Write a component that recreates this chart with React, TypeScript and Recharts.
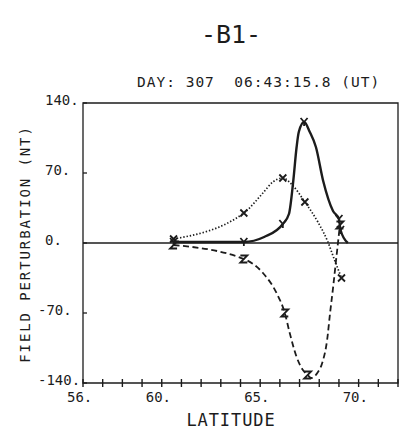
import React from "react";
import { LineChart, Line, XAxis, YAxis, ReferenceLine, ReferenceArea } from "recharts";

// latitude / field perturbation (nT), mark = plotted symbol
const solidLat = [60.6, 64.17, 65.2, 66.15, 66.46, 66.68, 66.85, 66.96, 67.23, 67.52, 67.83, 68.2, 68.7, 69.0, 69.08, 69.45];
const solidVal = [1, 1, 6, 19, 29, 62, 96, 111, 121, 111, 96, 62, 32, 24, 13, 0];
const solidMark = [1, 1, 0, 1, 0, 0, 0, 0, 1, 0, 0, 0, 0, 1, 1, 0];

const dottedLat = [60.6, 64.17, 65.14, 65.64, 66.15, 66.63, 67.27, 67.93, 68.44, 68.74, 69.13];
const dottedVal = [4, 30, 50, 61, 65, 58, 41, 21, 1, -15, -35];
const dottedMark = [1, 1, 0, 0, 1, 0, 1, 0, 0, 0, 1];

const dashedLat = [60.6, 64.17, 65.14, 65.83, 66.25, 66.5, 66.85, 67.17, 67.41, 67.6, 67.9, 68.15, 68.4, 68.55, 68.7, 68.85, 69.05];
const dashedVal = [-2, -16, -30, -50, -70, -90, -114, -127, -132, -135, -130, -120, -97, -70, -45, -18, 18];
const dashedMark = [1, 1, 0, 0, 1, 0, 0, 0, 1, 0, 0, 0, 0, 0, 0, 0, 1];

const xTicks = [56, 57, 58, 59, 60, 61, 62, 63, 64, 65, 66, 67, 68, 69, 70, 71, 72];
const xLabels = [56, 60, 65, 70];
const yTicks = [-140, -70, 0, 70, 140];

const build = (lat: number[], val: number[], mark: number[]) =>
  lat.map((l, i) => ({ lat: l, v: val[i], mark: mark[i] }));

const solid = build(solidLat, solidVal, solidMark);
const dotted = build(dottedLat, dottedVal, dottedMark);
const dashed = build(dashedLat, dashedVal, dashedMark);

const INK = "#1c1c1c";
const FONT = "'DejaVu Sans Mono', monospace";
const PLOT_LEFT = 83;
const PLOT_BOTTOM = 383;

function makeDot(kind: "y" | "x" | "z") {
  return (props: any) => {
    const { cx, cy, index, payload } = props;
    if (!payload?.mark || cx == null) return <g key={`n-${kind}-${index}`} />;
    let d = "";
    if (kind === "x") d = `M${cx - 3.5},${cy - 3.5}L${cx + 3.5},${cy + 3.5}M${cx + 3.5},${cy - 3.5}L${cx - 3.5},${cy + 3.5}`;
    if (kind === "y") d = `M${cx - 3.5},${cy - 4}L${cx},${cy}L${cx + 3.5},${cy - 4}M${cx},${cy}L${cx},${cy + 4}`;
    if (kind === "z") d = `M${cx - 3.5},${cy - 3.5}H${cx + 3.5}L${cx - 3.5},${cy + 3.5}H${cx + 3.5}`;
    return <path key={`m-${kind}-${index}`} d={d} stroke={INK} strokeWidth={1.8} fill="none" />;
  };
}

function XTick(props: any) {
  const { x, payload } = props;
  const v = payload.value;
  return (
    <g>
      <line x1={x} x2={x} y1={PLOT_BOTTOM - 4} y2={PLOT_BOTTOM + 4} stroke={INK} strokeWidth={1.4} />
      {xLabels.includes(v) && (
        <text x={x - 16} y={PLOT_BOTTOM + 19} fontFamily={FONT} fontSize={14} fill={INK} textAnchor="start">
          {`${v}.`}
        </text>
      )}
    </g>
  );
}

function YTick(props: any) {
  const { y, payload } = props;
  const v = payload.value;
  return (
    <g>
      <line x1={PLOT_LEFT} x2={PLOT_LEFT + 4} y1={y} y2={y} stroke={INK} strokeWidth={1.3} />
      <text x={v < 0 ? 38 : 45} y={y + 2} fontFamily={FONT} fontSize={14} fill={INK} textAnchor="start">
        {`${v}.`}
      </text>
    </g>
  );
}

export default function App() {
  return (
    <div style={{ position: "absolute", left: 0, top: 0, width: 412, height: 434, background: "#fff", color: INK, fontFamily: FONT }}>
      <div style={{ position: "absolute", left: 0, width: 462, top: 20, textAlign: "center", fontSize: 25, lineHeight: "30px" }}>-B1-</div>
      <div style={{ position: "absolute", left: 137, top: 73, fontSize: 14.5, letterSpacing: 1, whiteSpace: "pre", lineHeight: "18px" }}>
        DAY: 307  06:43:15.8 (UT)
      </div>
      <div
        style={{
          position: "absolute",
          left: 25,
          top: 244,
          transform: "translate(-50%, -50%) rotate(-90deg)",
          fontSize: 14,
          letterSpacing: 1.9,
          whiteSpace: "pre",
          lineHeight: "16px",
        }}
      >
        FIELD PERTURBATION (NT)
      </div>
      <div style={{ position: "absolute", left: 0, width: 462, top: 410, textAlign: "center", fontSize: 17, letterSpacing: 0.9, lineHeight: "20px" }}>
        LATITUDE
      </div>
      <div style={{ position: "absolute", left: 0, top: 0 }}>
        <LineChart width={412} height={434} margin={{ top: 103, right: 14, bottom: 21, left: PLOT_LEFT - 40 }}>
          <XAxis
            type="number"
            dataKey="lat"
            domain={[56, 72]}
            ticks={xTicks}
            interval={0}
            height={30}
            axisLine={false}
            tickLine={false}
            tick={(p: any) => <XTick key={`xt-${p.payload.value}`} {...p} />}
            allowDataOverflow
          />
          <YAxis
            type="number"
            domain={[-140, 140]}
            ticks={yTicks}
            interval={0}
            width={40}
            axisLine={false}
            tickLine={false}
            tick={(p: any) => <YTick key={`yt-${p.payload.value}`} {...p} />}
            allowDataOverflow
          />
          <ReferenceArea x1={56} x2={72} y1={-140} y2={140} fill="none" stroke={INK} strokeWidth={1.3} fillOpacity={0} />
          <ReferenceLine y={0} stroke={INK} strokeWidth={1.3} />
          <Line
            data={dotted}
            dataKey="v"
            type="monotone"
            stroke={INK}
            strokeWidth={1.7}
            strokeDasharray="1.4 1.9"
            dot={makeDot("x")}
            activeDot={false}
            isAnimationActive={false}
          />
          <Line
            data={dashed}
            dataKey="v"
            type="monotone"
            stroke={INK}
            strokeWidth={1.8}
            strokeDasharray="6 3.5"
            dot={makeDot("z")}
            activeDot={false}
            isAnimationActive={false}
          />
          <Line
            data={solid}
            dataKey="v"
            type="monotone"
            stroke={INK}
            strokeWidth={2.4}
            dot={makeDot("y")}
            activeDot={false}
            isAnimationActive={false}
          />
        </LineChart>
      </div>
    </div>
  );
}
